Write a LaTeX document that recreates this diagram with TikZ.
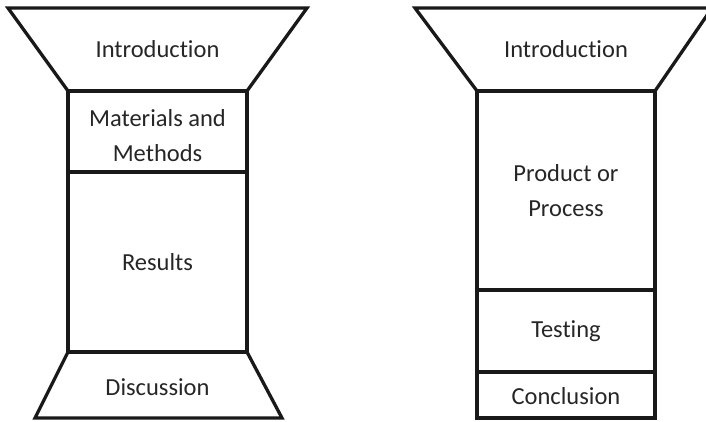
\documentclass[tikz,border=0pt]{standalone}
\usepackage{fontspec}
\setmainfont{Carlito}[Ligatures={NoCommon,NoRare,NoDiscretionary}]
\tikzset{
  frame/.style={draw=black!90, line width=3.3pt, line join=miter},
  label/.style={font=\fontsize{24.5}{35}\selectfont, text=black!85, align=center, inner sep=0pt},
}
\begin{document}
\begin{tikzpicture}[x=1pt,y=-1pt]
\useasboundingbox (0,0) rectangle (706,421);
\clip (0,0) rectangle (706,421);
% left column
\draw[frame] (8,8) -- (307,8) -- (247,91) -- (68,91) -- cycle;
\draw[frame] (68,91) rectangle (247,352);
\draw[frame] (68,172) -- (247,172);
\draw[frame] (68,352) -- (247,352) -- (282,418) -- (35,418) -- cycle;
\node[label] (lintro) at (157.5,49) {Introduction};
\node[label] (lmat) at (157.5,136) {Materials and\\Methods};
\node[label] (lres) at (157.5,262) {Results};
\node[label] (ldisc) at (157.5,387) {Discussion};
% right column
\draw[frame] (415,8) -- (712,8) -- (655,91) -- (477,91) -- cycle;
\draw[frame] (477,91) rectangle (655,418);
\draw[frame] (477,290) -- (655,290);
\draw[frame] (477,372) -- (655,372);
\node[label] (rintro) at (566,49) {Introduction};
\node[label] (rprod) at (566,191) {Product or\\Process};
\node[label] (rtest) at (566,331) {Testing};
\node[label] (rconc) at (566,396) {Conclusion};
\end{tikzpicture}
\end{document}
